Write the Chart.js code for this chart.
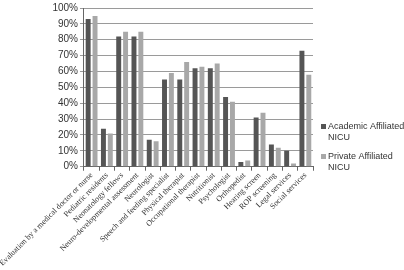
<!DOCTYPE html>
<html>
<head>
<meta charset="utf-8">
<script src="https://cdn.jsdelivr.net/npm/chart.js@4"></script>
<style>
  html, body { margin: 0; padding: 0; background: #fff; }
  #wrap { width: 404px; height: 270px; position: relative; }
</style>
</head>
<body>
<div id="wrap"><canvas id="chart"></canvas></div>
<script>
const categories = [
  "Evaluation by a medical doctor or nurse",
  "Pediatric residents",
  "Neonatology fellows",
  "Neuro-developmental assessment",
  "Neurologist",
  "Speech and feeding specialist",
  "Physical therapist",
  "Occupational therapist",
  "Nutritionist",
  "Psychologist",
  "Orthopedist",
  "Hearing screen",
  "ROP screening",
  "Legal services",
  "Social services"
];
const academicValues = [93, 24, 82, 82, 17, 55, 55, 62, 62, 44, 3, 31, 14, 10, 73];
const privateValues = [95, 21, 85, 85, 16, 59, 66, 63, 65, 41, 4, 34, 12, 2, 58];
const seriesNames = [["Academic Affiliated", "NICU"], ["Private Affiliated", "NICU"]];
const seriesColors = ["#555555", "#a8a8a8"];

// legend drawn by hand to the right of the plot, text wrapped on two lines
const sideLegend = {
  id: "sideLegend",
  afterDraw(chart) {
    const ctx = chart.ctx;
    const x = chart.chartArea.right + 8;
    const tops = [127, 157];
    ctx.save();
    ctx.font = "9px 'Liberation Sans', Arial, sans-serif";
    ctx.textBaseline = "middle";
    seriesNames.forEach((lines, i) => {
      ctx.fillStyle = seriesColors[i];
      ctx.fillRect(x, tops[i] - 3, 5, 5);
      ctx.fillStyle = "#333";
      lines.forEach((t, j) => ctx.fillText(t, x + 7, tops[i] + j * 10.5));
    });
    ctx.restore();
  }
};

new Chart(document.getElementById("chart"), {
  type: "bar",
  data: {
    labels: categories,
    datasets: [
      { label: "Academic Affiliated NICU", data: academicValues, backgroundColor: seriesColors[0] },
      { label: "Private Affiliated NICU", data: privateValues, backgroundColor: seriesColors[1] }
    ]
  },
  options: {
    responsive: true,
    maintainAspectRatio: false,
    animation: false,
    layout: { padding: { top: 4, right: 91, left: 0, bottom: 2 } },
    plugins: { legend: { display: false }, tooltip: { enabled: false } },
    datasets: { bar: { barPercentage: 0.72, categoryPercentage: 0.9 } },
    scales: {
      x: {
        offset: true,
        grid: { display: true, drawOnChartArea: false, drawTicks: true, tickLength: 4, offset: true, color: "#666" },
        border: { color: "#666" },
        ticks: {
          minRotation: 45, maxRotation: 45, autoSkip: false, padding: 0,
          color: "#333",
          font: { family: "'Liberation Serif', 'Times New Roman', serif", size: 8 }
        }
      },
      y: {
        min: 0, max: 100,
        grid: { color: "#9a9a9a", tickLength: 4 },
        border: { color: "#666" },
        ticks: {
          stepSize: 10, padding: 2, color: "#333",
          font: { family: "'Liberation Sans', Arial, sans-serif", size: 10 },
          callback: (v) => v + "%"
        }
      }
    }
  },
  plugins: [sideLegend]
});
</script>
</body>
</html>
